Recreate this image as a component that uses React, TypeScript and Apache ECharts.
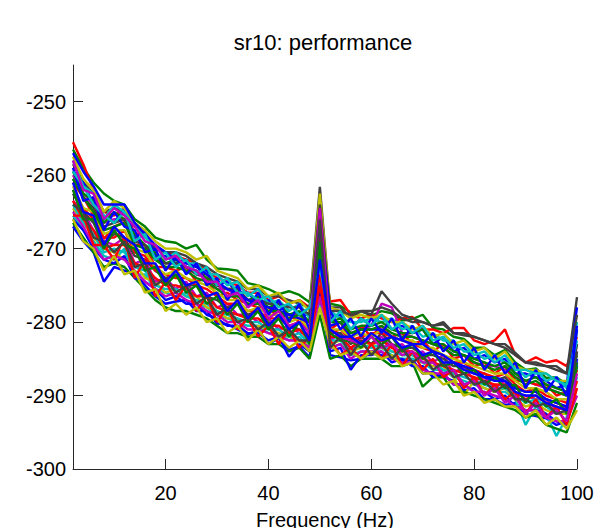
import React, { useEffect, useRef } from "react";
import * as echarts from "echarts";

const FREQ_HZ = [2,4,6,8,10,12,14,16,18,20,22,24,26,28,30,32,34,36,38,40,42,44,46,48,50,52,54,56,58,60,62,64,66,68,70,72,74,76,78,80,82,84,86,88,90,92,94,96,98,100];
const X_TICKS = [20, 40, 60, 80, 100];
const Y_TICKS = [-300, -290, -280, -270, -260, -250];
const TITLE = "sr10: performance";
const X_NAME = "Frequency (Hz)";

const CH_01 = [-267,-269,-270.5,-274.5,-272.5,-273,-273.5,-275,-276.5,-277.5,-277.2,-277,-278.5,-278.5,-280.2,-280.3,-281,-281.7,-281,-283,-282.2,-283.8,-283.3,-284.8,-275,-284.5,-284.8,-285.2,-285,-284.1,-284.5,-284.8,-285.3,-285.1,-287,-286.8,-287.5,-288,-289.3,-289,-290.5,-290.5,-291.3,-291,-292.5,-292.8,-293.1,-294,-293.5,-285];
const CH_02 = [-256.5,-259,-261,-262.5,-263.5,-264,-266,-267,-268.5,-269,-269.2,-270,-269.5,-271.5,-272.7,-272.8,-273,-274.7,-275,-275.5,-276.2,-275.8,-276.3,-277.3,-268,-277.5,-277.8,-278.7,-278.5,-279.1,-278.5,-278.8,-279.8,-279.6,-279,-280.8,-281,-282,-282.3,-283.5,-283.5,-284.5,-283.8,-285.5,-286.5,-286.3,-287.6,-287.5,-288.5,-283];
const CH_03 = [-255.5,-258.5,-262,-265,-265.5,-264.5,-268,-268,-270,-270.5,-271,-271.5,-272,-273,-274,-274.5,-275,-276,-276,-277,-276.5,-277.5,-277,-278,-270,-277.2,-277,-279,-279.5,-279,-279.5,-280,-279.5,-279.3,-281,-281,-281.5,-280.8,-280.8,-282.5,-283,-282.5,-281,-284.5,-285.5,-284.8,-285.5,-285.2,-286,-282];
const CH_04 = [-265.5,-267.5,-269,-271,-271.5,-270,-273.5,-273.5,-275.5,-276,-276.5,-276,-277.5,-278,-279,-279.5,-280,-280.5,-280.5,-281.5,-281.5,-282.5,-282,-283.5,-277,-283.5,-283,-284.5,-284,-284,-283.5,-284.5,-285,-285,-285.5,-286.5,-286.5,-287.5,-288,-288.5,-289,-289.5,-289.5,-290.5,-294,-291.5,-292.5,-295.5,-293,-281];
const CH_05 = [-260,-262.5,-264,-266.5,-266,-266,-268.5,-269.5,-271,-272,-272,-272.5,-273.5,-274,-275.5,-275.5,-276.5,-277,-277.5,-278,-278.5,-279,-279,-280,-265,-280.5,-280,-281.5,-281,-280.5,-277.5,-278,-281.5,-282,-282.5,-283,-283.5,-284.5,-284.5,-285.5,-286,-286,-286.5,-287.5,-288,-288.5,-289,-289.5,-290,-284];
const CH_06 = [-264.5,-266.5,-268.5,-270,-270.5,-271.5,-272,-274,-274.5,-276,-275.5,-276.5,-276.5,-278,-278.5,-279.5,-279.5,-282.5,-280.5,-281,-281.5,-282,-282.5,-283,-262.5,-283,-282.5,-284,-283.5,-283,-283.5,-284,-284.5,-284.5,-285.5,-286,-286,-287.5,-290,-288,-289,-289.5,-289,-290.5,-291.5,-291,-292,-292.5,-292.5,-288];
const CH_07 = [-258.5,-261,-262.5,-265,-264.5,-265,-267,-268,-270,-270.5,-270.5,-271,-272,-272.5,-273.5,-274,-274.5,-275.5,-275.5,-276.5,-276.5,-277,-277.5,-278,-261.6,-278,-278,-279.5,-278.5,-278.5,-278,-278.5,-279.5,-280,-280,-280.5,-280,-281.5,-281.5,-282,-282.5,-283,-283,-284.2,-285.5,-285.5,-286,-286,-287,-276.6];
const CH_08 = [-259.5,-261,-264,-265.5,-266.5,-264.5,-268.5,-267.5,-271,-271,-272,-271.5,-273.5,-273,-275,-274.5,-276,-276,-277.5,-277,-278.5,-277.5,-279,-279,-263.5,-279.5,-279,-281,-279.5,-280.5,-279,-281,-280.5,-281.5,-281,-283,-282,-284,-283.5,-285,-284.5,-285.5,-285,-287,-287,-287.5,-288,-289,-288.5,-278];
const CH_09 = [-266.5,-268.5,-270.5,-272.5,-272,-272.5,-274,-275.5,-277,-278,-278.5,-278.5,-279,-279.5,-280.5,-281.5,-281.5,-282,-282,-283,-283,-284,-283.5,-285,-279,-285,-284.5,-286,-285,-285,-285,-286,-286,-285.5,-288.8,-287.5,-287.5,-289.5,-289.5,-290,-290.5,-291,-291.5,-292,-293,-292.5,-294,-294.5,-295,-291];
const CH_10 = [-261,-263,-265.5,-268.7,-267,-266.4,-269.5,-269.5,-272.5,-272.5,-273,-272.5,-274.5,-274,-276.5,-276,-277,-277.5,-278,-278,-279.5,-279,-280,-280,-272,-281,-280,-282.5,-280.5,-282,-280.5,-282,-281.5,-283,-282.5,-284,-283,-285,-284.5,-286,-285.5,-287,-286,-288,-288,-288.5,-288.5,-290,-289.5,-287];
const CH_11 = [-258,-261.5,-262.5,-266,-264,-265,-267,-268.5,-269.5,-271.5,-270.5,-272,-272,-273.5,-273.5,-275,-274.5,-276.5,-275.5,-277.5,-277,-278.5,-277.5,-279.5,-267,-278.5,-279.5,-280,-280,-279.5,-280,-279.5,-281,-280.5,-282,-281.5,-282.5,-282.5,-284,-284,-285,-284.5,-285.5,-286,-287.5,-286.5,-288,-287.5,-289,-280];
const CH_12 = [-263.5,-265,-267.5,-269,-269.5,-268.5,-272,-271.5,-274.5,-274,-275.5,-274.5,-276.5,-276,-278,-277.5,-279,-279,-280,-279.5,-281,-280.5,-281.5,-281.5,-271,-282.5,-281.5,-284,-282,-283,-282,-283.5,-283,-284.5,-284,-285.5,-284.5,-287,-286,-288,-287.5,-289,-288,-290,-290,-290.5,-290.5,-292,-291.5,-289];
const CH_13 = [-257.5,-260.5,-262,-265,-263.5,-264.5,-266.5,-267.5,-269,-270,-270,-270.5,-271.5,-271,-273,-273.5,-274,-275.5,-275,-276.5,-276,-277.5,-277,-278.5,-262.5,-278,-278.5,-279.5,-279,-279.5,-279,-280,-280,-281,-280.5,-282,-281.5,-283,-282.5,-284,-283.5,-285,-284,-286,-286.5,-286.5,-287,-288,-288,-286];
const CH_14 = [-262.5,-265,-266.5,-269.5,-268,-268.5,-271,-271.5,-273,-274,-273.5,-275,-275,-276.5,-277,-278,-277.5,-279,-278.5,-280,-283,-280.5,-281,-282,-270,-281.5,-281.5,-283,-282,-283,-281.5,-283,-283.5,-283.5,-284.5,-284.5,-285,-286,-286,-287,-287,-288,-287.5,-289,-289.5,-289.5,-290.5,-291,-291.5,-283];
const CH_15 = [-266,-267.5,-270,-271.5,-272,-271,-274,-274.5,-275.5,-277,-276.5,-277.5,-277.5,-279,-279.5,-280.5,-280.5,-281.5,-281.5,-282.5,-282,-284.7,-283,-284,-276,-284,-283.5,-286.5,-284.5,-284.5,-284,-285.5,-285,-286,-286,-287.5,-287,-288.5,-288.5,-289.5,-289.5,-290.5,-290,-291.5,-292,-292,-292.5,-293.5,-294,-285.5];
const CH_16 = [-259.5,-262.5,-263.5,-266.5,-265,-266,-268,-269.5,-270.5,-272,-271.5,-272.5,-273,-274,-275,-275.5,-275.5,-277,-276.5,-278,-277.5,-279,-278.5,-280,-266,-280,-279.5,-281,-280.5,-280.5,-280,-281,-281.5,-281.5,-281,-283,-283,-284,-284.5,-285,-285.5,-286,-285.5,-287,-288,-287.5,-288.5,-289,-289.5,-284.5];
const CH_17 = [-262,-264.5,-266,-268.5,-268.5,-267.5,-270.5,-271,-273,-273.5,-274,-274,-275,-275.5,-276.5,-277.5,-277.5,-278.5,-278.5,-279.5,-279.5,-280.5,-280,-281,-268.5,-281.5,-281,-282.5,-282,-281.5,-281.5,-282,-282.5,-283,-283.5,-284,-284.5,-285.5,-285.5,-286.5,-287,-287.5,-287,-288.5,-289.5,-289,-290,-290.5,-291,-286.5];
const CH_18 = [-264,-266.5,-268,-270.5,-270,-270.5,-272.5,-273,-275,-275.5,-275.5,-276.5,-277,-277.5,-278.5,-279,-279.5,-280,-280,-281,-281,-282,-281.5,-283,-274,-282.5,-282.5,-284,-283,-283.5,-283,-284,-284.5,-284.5,-285.5,-285.5,-286.5,-287,-287.5,-288,-288.5,-289,-289,-290,-291,-290.5,-291.5,-292.5,-292,-287.5];
const CH_19 = [-265,-267,-269.5,-271.5,-271,-271.5,-273,-274.5,-275.5,-276.5,-276,-277,-277.5,-278.5,-279,-280,-280,-281,-281,-281.5,-282,-282.5,-282.5,-283.5,-276.5,-283.5,-283,-285,-284,-284,-284,-285,-285.5,-285.5,-286.5,-287,-287,-288.5,-288.5,-289.5,-289.5,-290,-290.5,-291.5,-292,-292,-293,-293.5,-293.5,-290];
const CH_20 = [-261.5,-264.5,-265,-268,-267.5,-267.5,-270,-270.5,-272.5,-273.5,-273,-274,-274.5,-275,-276,-277,-277,-278.5,-278,-279,-279,-280,-279.5,-281,-273,-281,-281,-282,-281.5,-282,-281,-282,-282.5,-282.5,-283.5,-283.5,-284.5,-285,-285.5,-286,-286.5,-287,-287,-288,-289,-289,-289.5,-290.5,-290.5,-289];
const CH_21 = [-260.5,-263,-264.5,-267,-266.5,-266,-269,-269.5,-271.5,-272,-272,-272.5,-273.5,-273.5,-275,-275.5,-275.5,-277,-277,-277.5,-277.5,-278,-278,-279,-264,-278.5,-278.5,-279,-278.5,-279,-275.8,-277.5,-279,-279.5,-280,-280.5,-280.3,-281.5,-281.8,-282,-282.5,-283,-283.5,-284.5,-285.5,-285.8,-286,-286.5,-287,-279];
const CH_22 = [-257,-259.5,-261.5,-264,-264,-264,-266.5,-268,-269.5,-270.5,-271.5,-272,-272.5,-273.5,-274.5,-275.5,-276,-277,-277.5,-278,-278.5,-279,-279.5,-280,-275.5,-280.5,-280,-282,-281,-281,-281,-282,-282.5,-283,-283,-284,-284.5,-285.5,-286,-286.5,-287.5,-287.5,-288,-289,-289.5,-289.5,-290.5,-291,-291.5,-286];
const CH_23 = [-263.5,-266,-267.5,-270,-269.5,-269.5,-272,-272.5,-274,-275,-275,-275.5,-276.5,-276.5,-278,-278.5,-279,-279.5,-279.5,-280.5,-280.5,-281.5,-281,-282.5,-275,-282,-282,-283.5,-282.5,-283,-282.5,-283.5,-284,-284,-285,-285.5,-286,-286.5,-287,-287.5,-288,-288.5,-288.5,-289.5,-290.5,-290,-291,-291.5,-292,-288];
const CH_24 = [-260.5,-263,-265,-267.5,-267,-266.5,-269.5,-270,-271.5,-272.5,-272.5,-273,-274,-274.5,-275.5,-276.5,-276.5,-277.5,-277.5,-278.5,-278.5,-279.5,-279,-280,-270,-280,-280,-281.5,-281,-281,-280.5,-281.5,-282,-282,-282.5,-283,-283.5,-284.5,-284.5,-285.5,-286,-286.5,-286,-287.5,-288.5,-288,-289,-289.5,-290,-285.5];
const CH_25 = [-259,-263.5,-263,-267.5,-265,-267,-267.5,-270.5,-270,-273,-271,-273.5,-272,-275,-274,-277,-275,-278,-276,-279,-277,-280,-277.5,-281,-266.5,-278.5,-281,-279.5,-282,-279.5,-281.5,-279.5,-282.5,-280.5,-283,-281.5,-284,-282.5,-285.5,-283.5,-286.5,-284.5,-287,-285.5,-289,-286.5,-289.5,-287.5,-290,-280.5];
const CH_26 = [-265.5,-265.5,-269.5,-269.5,-271.5,-268.5,-274,-271.5,-276.5,-274.5,-277,-275,-278.5,-276.5,-280,-278,-281,-279.5,-282,-280.5,-283,-281,-283.5,-282,-273.5,-282.5,-284.5,-283.5,-285,-283,-285,-283,-286,-284,-286.5,-285,-287.5,-286.5,-289,-287.5,-290,-288.5,-290.5,-289.5,-292.5,-290.5,-293,-291.5,-294,-289];
const CH_27 = [-262,-266,-266,-270,-267.5,-269.5,-270,-273,-272.5,-275,-273.5,-276,-275,-277.5,-276.5,-279,-277.5,-280,-278.5,-281,-279.5,-282,-280,-283,-269,-281.5,-282.5,-282.5,-283.5,-282,-283,-282,-284,-283,-285,-284,-286,-285.5,-287,-286.5,-288.5,-287.5,-289,-288.5,-291,-289,-291.5,-290.5,-292.5,-286];
const CH_28 = [-259.5,-261.5,-264,-265.5,-266.5,-265,-269,-268,-271.5,-270.5,-272.5,-271.5,-273.5,-272.5,-275,-274,-276,-276,-277,-276.5,-278,-277.5,-279,-278,-272.5,-280,-278.5,-281,-279.5,-280.5,-279,-281,-280,-281.5,-280.5,-282.5,-282,-283.5,-283,-284.5,-284,-285.5,-284.5,-286.5,-286.5,-287,-287,-288,-288.5,-282.5];
const CH_29 = [-258,-262,-262.5,-266,-264.5,-265.5,-267,-269,-269.5,-271.5,-271,-272.5,-273,-274.5,-274.5,-276.5,-276,-278,-277,-279.5,-278.5,-280.5,-280,-281.5,-264.5,-281,-282,-282.5,-283,-282,-283.5,-283,-284.5,-284,-285.5,-285.5,-287,-286.5,-288.5,-288,-290,-289,-291,-290,-292.5,-291,-293,-292,-293.5,-287];
const CH_30 = [-266,-269,-270,-273,-271,-273.5,-273,-276,-275.5,-278.5,-277.5,-279,-278,-280,-279.5,-281.5,-280.5,-282.5,-281,-283,-282,-283.5,-282.5,-284,-278,-283,-284.5,-284,-285,-284,-285,-284.5,-286,-285.5,-287,-287,-288.5,-288,-290,-289.5,-291,-290.5,-291.5,-291.5,-293,-292,-294,-293,-294.5,-292];
const CH_31 = [-264,-265,-268.5,-269,-270.5,-269,-272.5,-272,-275,-274,-276,-275,-277.5,-276.5,-279,-278,-280,-279.5,-281,-280,-282,-281,-282.5,-282.5,-266,-283.5,-282,-284.5,-282.5,-284.5,-283,-285,-283.5,-285.5,-284.5,-286.5,-285.5,-287.5,-287,-288.5,-288,-289.5,-288.5,-290.5,-290.5,-291.5,-291,-292.5,-292,-284];
const CH_32 = [-261,-265,-265.5,-269.5,-267,-268.5,-269.5,-272,-272,-274.5,-273,-275,-274.5,-276.5,-276,-278.5,-277,-279.5,-278,-280.5,-279,-281,-280,-282.5,-271.5,-281,-282,-282,-283,-281.5,-282.5,-282,-283.5,-283,-284.5,-284,-285.5,-285.5,-286.5,-287,-287.5,-288,-288,-289.5,-290,-290,-291,-291.5,-292,-281];

const CHANNELS = [CH_01, CH_02, CH_03, CH_04, CH_05, CH_06, CH_07, CH_08, CH_09, CH_10, CH_11, CH_12, CH_13, CH_14, CH_15, CH_16, CH_17, CH_18, CH_19, CH_20, CH_21, CH_22, CH_23, CH_24, CH_25, CH_26, CH_27, CH_28, CH_29, CH_30, CH_31, CH_32];

const BLUE = "#0000ff", GREEN = "#008000", RED = "#ff0000", CYAN = "#00bfbf", MAGENTA = "#bf00bf", YELLOW = "#bfbf00", GRAY = "#404040";
const CHANNEL_COLORS = [BLUE, GREEN, RED, CYAN, MAGENTA, YELLOW, GRAY, BLUE, GREEN, RED, CYAN, MAGENTA, YELLOW, GRAY, BLUE, GREEN, RED, CYAN, MAGENTA, YELLOW, GRAY, BLUE, RED, GREEN, BLUE, RED, GREEN, CYAN, MAGENTA, YELLOW, GRAY, BLUE];

const FONT = "'Liberation Sans', Arial, Helvetica, sans-serif";

export default function App() {
  const ref = useRef<HTMLDivElement>(null);
  useEffect(() => {
    if (!ref.current) return;
    const chart = echarts.init(ref.current, null, { renderer: "svg" });
    const series = CHANNELS.map((vals, k) => ({
      type: "line" as const,
      data: FREQ_HZ.map((f, i) => [f, vals[i]]),
      symbol: "none",
      showSymbol: false,
      silent: true,
      lineStyle: { width: 2.4, color: CHANNEL_COLORS[k] },
      itemStyle: { color: CHANNEL_COLORS[k] },
      emphasis: { disabled: true },
    }));
    chart.setOption({
      animation: false,
      backgroundColor: "#ffffff",
      textStyle: { fontFamily: FONT },
      grid: { left: 73, right: 19, top: 65, bottom: 59, containLabel: false, outerBoundsMode: "none" },
      xAxis: {
        type: "value",
        min: 2,
        max: 100,
        name: X_NAME,
        nameLocation: "middle",
        nameGap: 41,
        nameTextStyle: { fontSize: 20, color: "#000", fontFamily: FONT },
        splitLine: { show: false },
        axisLine: { show: true, lineStyle: { color: "#262626", width: 1 } },
        axisTick: { show: true, inside: true, length: 10, customValues: X_TICKS, lineStyle: { color: "#262626" } },
        axisLabel: { show: true, customValues: X_TICKS, fontSize: 20, color: "#000", margin: 14, fontFamily: FONT },
      },
      yAxis: {
        type: "value",
        min: -300,
        max: -245,
        splitLine: { show: false },
        axisLine: { show: true, lineStyle: { color: "#262626", width: 1 } },
        axisTick: { show: true, inside: true, length: 10, customValues: Y_TICKS, lineStyle: { color: "#262626" } },
        axisLabel: { show: true, customValues: Y_TICKS, fontSize: 20, color: "#000", margin: 7, padding: [8, 0, 0, 0], fontFamily: FONT },
      },
      graphic: [
        {
          type: "text",
          x: 323,
          y: 42.5,
          style: { text: TITLE, fontSize: 22, fontFamily: FONT, fill: "#000", textAlign: "center", textVerticalAlign: "middle" },
        },
      ],
      series,
    });
    return () => chart.dispose();
  }, []);
  return <div ref={ref} style={{ position: "fixed", left: 0, top: 0, width: 596, height: 528 }} />;
}
